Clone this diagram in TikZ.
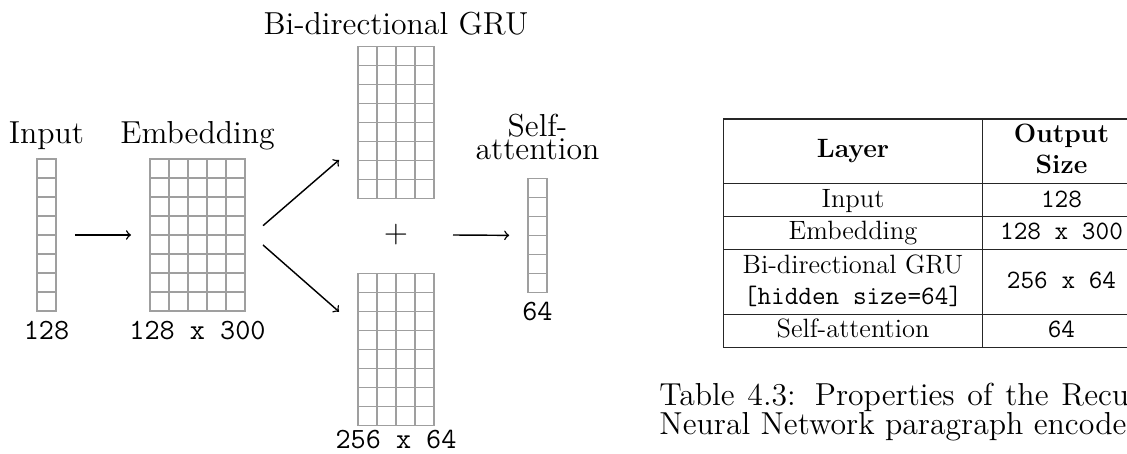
\documentclass[tikz,border=0pt]{standalone}
\usetikzlibrary{calc}
\newcommand\diaglab{\fontsize{14.4}{17}\selectfont}
\newcommand\diagnum{\fontsize{13.3}{16}\selectfont\ttfamily}
\newcommand\tablab{\fontsize{12}{14.5}\selectfont}
\newcommand\caplab{\fontsize{14.4}{17}\selectfont}
\begin{document}
\begin{tikzpicture}[x=0.453pt,y=-0.453pt,
  gridbox/.style={draw=gray!75, line width=0.5pt, inner sep=0pt, outer sep=0pt},
  gridline/.style={draw=gray!75, line width=0.5pt},
  conn/.style={->, line width=0.65pt},
  lab/.style={anchor=base, inner sep=0pt, font=\diaglab},
  num/.style={anchor=base, inner sep=0pt, font=\diagnum},
  tline/.style={draw=black!85, line width=0.5pt},
  ttxt/.style={anchor=base, inner sep=0pt, font=\tablab},
  captxt/.style={anchor=base west, inner sep=0pt, font=\caplab}]
\clip (0,0) rectangle (1127,454);
\useasboundingbox (0,0) rectangle (1127,454);
% grid matrix macro
\newcommand\gmat[5]{%
  \node[gridbox, minimum width=#4*8.607pt, minimum height=#5*8.607pt] (#1) at (#2,#3) {};
  \foreach \i in {1,...,#4}{\ifnum\i<#4 \draw[gridline] ($(#1.north west)+(\i*19,0)$) -- ($(#1.south west)+(\i*19,0)$);\fi}
  \foreach \j in {1,...,#5}{\ifnum\j<#5 \draw[gridline] ($(#1.north west)+(0,\j*19)$) -- ($(#1.north east)+(0,\j*19)$);\fi}
}
\gmat{in}{46.5}{235}{1}{8}
\gmat{emb}{197.5}{235}{5}{8}
\gmat{gruA}{396}{122.5}{4}{8}
\gmat{gruB}{396}{349.3}{4}{8}
\gmat{sa}{537.5}{235.5}{1}{6}
% labels
\node[lab] (inlab) at ($(in.north)+(0,-15)$) {Input};
\node[lab] (emblab) at ($(emb.north)+(0,-15)$) {Embedding};
\node[lab] (grulab) at ($(gruA.north)+(0,-11.5)$) {Bi-directional GRU};
\node[lab, align=center, anchor=south, font={\fontsize{14.4}{10.3}\selectfont}] (salab) at ($(sa.north)+(0,-18)$) {Self-\\attention};
\node[num] (innum) at ($(in.south)+(0,29)$) {128};
\node[num] (embnum) at ($(emb.south)+(0,29)$) {128 x 300};
\node[num] (grunum) at ($(gruB.south)+(0,23)$) {256 x 64};
\node[num] (sanum) at ($(sa.south)+(0,28)$) {64};
\node[font=\diaglab, inner sep=0pt] (plus) at (396,235) {$+$};
% connectors
\draw[conn, shorten <=8.6pt, shorten >=8.6pt] (in.east) -- (emb.west);
\draw[conn] ($(emb.east)+(18,-9.3)$) -- ($(gruA.west)+(-19,37.5)$);
\draw[conn] ($(emb.east)+(18,10)$) -- ($(gruB.west)+(-19,-37.6)$);
\draw[conn, shorten >=8.5pt] ($(plus)+(57,0)$) -- (sa.west);
% table
\draw[tline] (723.3,119) -- (1140,119);
\draw[tline] (723.3,183.3) -- (1140,183.3);
\draw[tline] (723.3,216.7) -- (1140,216.7);
\draw[tline] (723.3,249.3) -- (1140,249.3);
\draw[tline] (723.3,314.3) -- (1140,314.3);
\draw[tline] (723.3,347.3) -- (1140,347.3);
\draw[tline] (723.3,119) -- (723.3,347.3);
\draw[tline] (982.7,119) -- (982.7,347.3);
\draw[tline] (1140,119) -- (1140,347.3);
\node[ttxt] (h1) at (853,158) {\bfseries Layer};
\node[ttxt] (h2a) at (1061.5,142.7) {\bfseries Output};
\node[ttxt] (h2b) at (1061.5,174) {\bfseries Size};
\node[ttxt] (r1a) at (853,207.7) {Input};
\node[ttxt] (r1b) at (1061.5,207.7) {\ttfamily 128};
\node[ttxt] (r2a) at (853,240) {Embedding};
\node[ttxt] (r2b) at (1061.5,240) {\ttfamily 128 x 300};
\node[ttxt] (r3a) at (853,273.3) {Bi-directional GRU};
\node[ttxt] (r3c) at (853,305) {\ttfamily [hidden size=64]};
\node[ttxt] (r3b) at (1061.5,288.3) {\ttfamily 256 x 64};
\node[ttxt] (r4a) at (853,338) {Self-attention};
\node[ttxt] (r4b) at (1061.5,338) {\ttfamily 64};
% caption
\node[captxt] (cap1) at (659,406) {\spaceskip=5.8pt\xspaceskip=8.6pt Table 4.3: Properties of the Recurrent};
\node[captxt] (cap2) at (659,435) {Neural Network paragraph encoder};
\end{tikzpicture}
\end{document}
